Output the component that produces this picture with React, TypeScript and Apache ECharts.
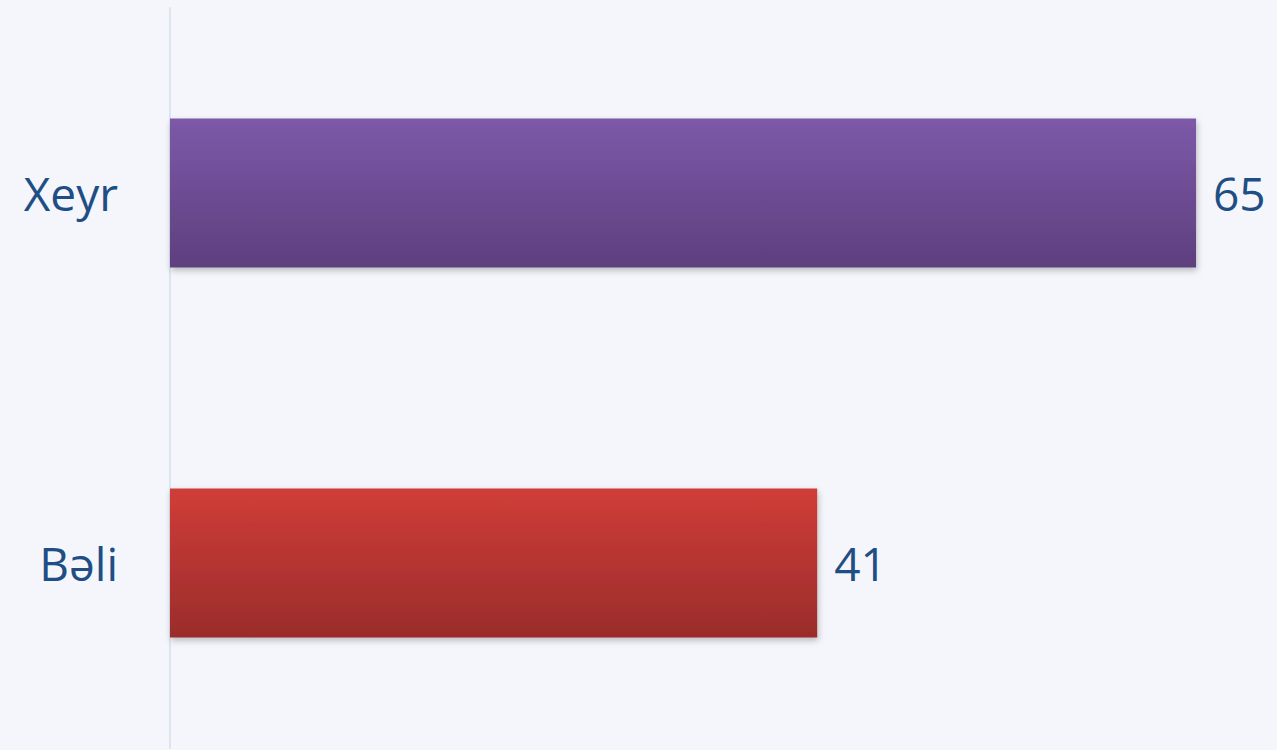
import React, { useEffect, useRef } from "react";
import * as echarts from "echarts";

const categories = ["Bəli", "Xeyr"];
const values = [41, 65];
const topColors = ["#d03d38", "#7c59a8"];
const bottomColors = ["#9a2c2b", "#5e3f7e"];

export default function App() {
  const ref = useRef<HTMLDivElement>(null);
  useEffect(() => {
    if (!ref.current) return;
    const chart = echarts.init(ref.current, null, { renderer: "svg" });
    chart.setOption({
      animation: false,
      backgroundColor: "#f4f6fb",
      grid: { left: 170, top: 8, width: 1105, bottom: 2, containLabel: false },
      xAxis: {
        type: "value",
        min: 0,
        max: 70,
        show: false,
      },
      yAxis: {
        type: "category",
        data: categories,
        axisLine: { show: true, lineStyle: { color: "#dbe5f2", width: 2 } },
        axisTick: { show: false },
        axisLabel: {
          margin: 52,
          fontSize: 46,
          fontFamily: "Open Sans",
          color: "#1f4e85",
        },
      },
      series: [
        {
          type: "bar",
          barWidth: 149,
          data: values.map((v, i) => ({
            value: v,
            itemStyle: {
              color: new echarts.graphic.LinearGradient(0, 0, 0, 1, [
                { offset: 0, color: topColors[i] },
                { offset: 1, color: bottomColors[i] },
              ]),
              shadowBlur: 6,
              shadowOffsetY: 3,
              shadowOffsetX: 1,
              shadowColor: "rgba(0,0,0,0.25)",
            },
          })),
          label: {
            show: true,
            position: "right",
            distance: 17,
            fontSize: 46,
            fontFamily: "Open Sans",
            color: "#1f4e85",
          },
        },
      ],
    });
    return () => chart.dispose();
  }, []);
  return (
    <div
      ref={ref}
      style={{ position: "absolute", left: 0, top: 0, width: 1277, height: 750 }}
    />
  );
}
